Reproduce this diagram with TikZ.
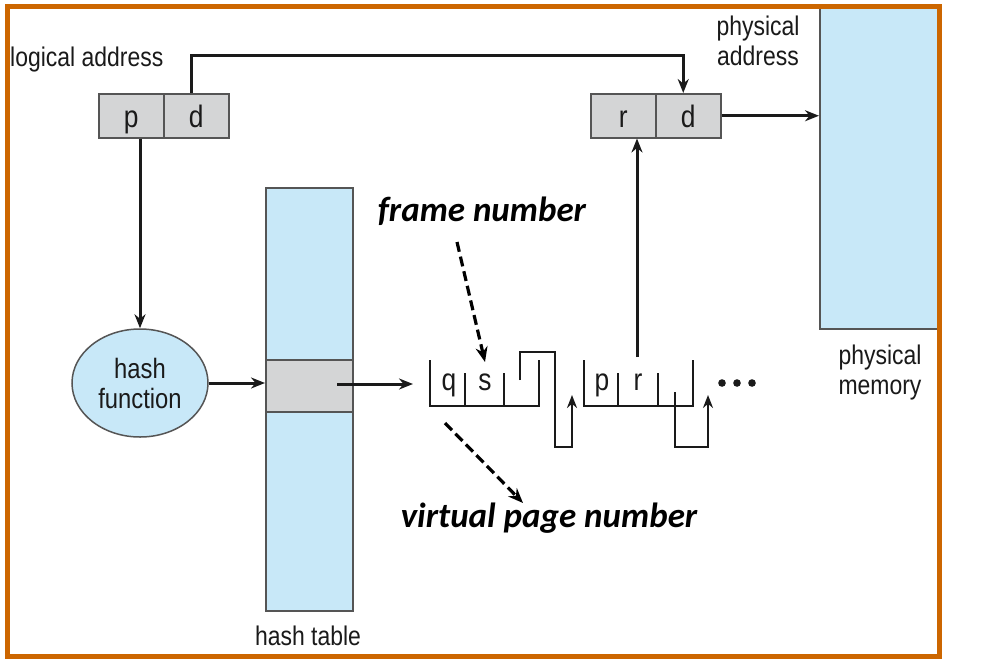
\documentclass[tikz,border=0pt]{standalone}
\usepackage{fontspec}
\setmainfont{Liberation Sans}[FakeStretch=0.85]
\newfontfamily\calib{Carlito}
\usetikzlibrary{arrows.meta,shapes.geometric}
\definecolor{frameorange}{HTML}{CC6600}
\definecolor{lblue}{HTML}{C8E8F8}
\definecolor{lgray}{HTML}{D4D5D6}
\definecolor{edge}{HTML}{555555}
\definecolor{ink}{HTML}{1A1A1A}
\tikzset{
  cellbox/.style={draw=edge,line width=1.5pt,fill=lgray,minimum width=65pt,minimum height=44pt,inner sep=0pt,font=\fontsize{31}{34}\selectfont,text=ink,text height=28pt,text depth=4pt},
  lbl/.style={inner sep=0pt,font=\fontsize{27}{31}\selectfont,align=center,text=ink},
  smalllbl/.style={inner sep=0pt,font=\fontsize{31}{34}\selectfont,text=ink,text height=20pt,text depth=6pt},
  note/.style={inner sep=0pt,font=\calib\bfseries\itshape\fontsize{35}{40}\selectfont},
  conn/.style={line width=3pt,draw=ink},
  arr/.style={conn,-{Stealth[length=14pt,width=11pt]}},
  darr/.style={line width=3.2pt,draw=black,dash pattern=on 10pt off 5pt,-{Stealth[length=15pt,width=12pt]}},
  chain/.style={line width=2.8pt,draw=ink},
}
\begin{document}
\begin{tikzpicture}[x=1pt,y=-1pt]
\useasboundingbox (0,0) rectangle (981,667);
\fill[white] (0,0) rectangle (981,667);
% physical memory
\node[draw=edge,line width=1.5pt,fill=lblue,minimum width=118pt,minimum height=322pt,inner sep=0pt,anchor=north west] (mem) at (819,6) {};
% hash table
\node[draw=edge,line width=1.5pt,fill=lblue,minimum width=87pt,minimum height=423pt,inner sep=0pt,anchor=north west] (ht) at (265,187) {};
\node[draw=edge,line width=1.5pt,fill=lgray,minimum width=87pt,minimum height=52pt,inner sep=0pt,anchor=north west] (hrow) at (265,359) {};
% logical address
\node[cellbox,anchor=north west] (p) at (98,93) {p};
\node[cellbox,anchor=north west] (d) at (163,93) {d};
% physical address
\node[cellbox,anchor=north west] (r) at (590,93) {r};
\node[cellbox,anchor=north west] (d2) at (655,93) {d};
% hash function
\node[ellipse,draw=edge,line width=1.5pt,fill=lblue,minimum width=136pt,minimum height=108pt,inner sep=0pt,lbl,font=\fontsize{28}{32}\selectfont] (hf) at (140,383) {hash\\[-2pt]function};
% labels
\node[lbl,anchor=west] (la) at (10,60) {logical address};
\node[lbl] (pa) at (758,41) {physical\\[-1pt]address};
\node[lbl] (pm) at (880,373) {physical\\[-1pt]memory};
\node[lbl] (htl) at (308,636) {hash table};
\node[note] (fn) at (482,211) {frame number};
\node[note] (vpn) at (549,518) {virtual page number};
% connectors
\coordinate (dt) at ([xshift=-5pt]d.north);
\coordinate (c1) at (dt |- 0,55);
\coordinate (d2t) at ([xshift=-5pt]d2.north);
\coordinate (c2) at (d2t |- 0,55);
\draw[arr] (dt) -- (c1) -- (c2) -- (d2t);
\draw[arr] (d2.east) -- (d2.east -| mem.west);
\draw[arr] (hf.north |- p.south) -- (hf.north);
\draw[arr] (hf.east |- 0,383) -- (hrow.west |- 0,383);
\coordinate (hs) at (337,384);
\coordinate (e1) at (413,384);
\draw[arr] (hs) -- (e1);
% bucket entry 1
\draw[chain] (430,360) -- (430,406) -- (539,406) -- (539,360);
\draw[chain] (465,373) -- (465,406);
\draw[chain] (504,373) -- (504,406);
\node[smalllbl] (q1) at (449,383) {q};
\node[smalllbl] (s1) at (485,383) {s};
\coordinate (nx1) at (572,395);
\draw[chain,-{Stealth[length=13pt,width=10pt]}] (520,380) -- (520,352) -- (555,352) -- (555,447) -- (572,447) -- (nx1);
% bucket entry 2
\draw[chain] (584,360) -- (584,406) -- (693,406) -- (693,360);
\draw[chain] (618,373) -- (618,406);
\draw[chain] (658,373) -- (658,406);
\node[smalllbl] (p2) at (602,383) {p};
\node[smalllbl] (r2) at (638,383) {r};
\coordinate (rs) at (637,357);
\draw[arr] (rs) -- (r.south -| rs);
\coordinate (nx2) at (708,395);
\draw[chain,-{Stealth[length=13pt,width=10pt]}] (675,392) -- (675,447) -- (708,447) -- (nx2);
% dots
\foreach \x in {722,737,752} \fill[ink] (\x,383) circle (3.8pt);
% dashed arrows
\coordinate (f1) at (457,242);
\coordinate (f2) at (485,362);
\draw[darr] (f1) -- (f2);
\coordinate (v1) at (445,423);
\coordinate (v2) at (523,503);
\draw[darr] (v1) -- (v2);
% frame
\draw[frameorange,line width=5pt] (7.5,6.5) rectangle (939.5,656.5);
\end{tikzpicture}
\end{document}
